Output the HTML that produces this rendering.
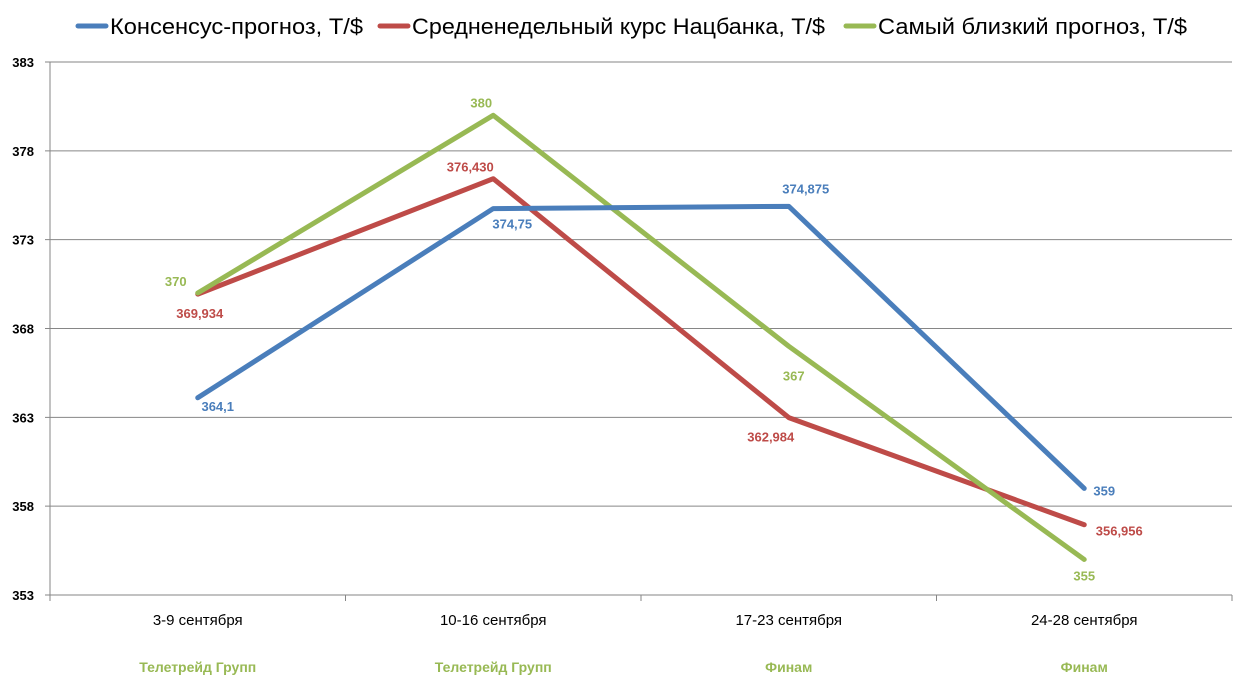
<!DOCTYPE html>
<html><head><meta charset="utf-8"><style>
body{margin:0;background:#fff;}
svg{display:block;font-family:"Liberation Sans",Arial,sans-serif;}
</style></head><body>
<svg id="chart" width="1246" height="693">
<g id="grid"></g>
<g id="axes"></g>
<g id="series"></g>
<g id="legend"></g>
</svg>
<script>
const categories=["3-9 сентября","10-16 сентября","17-23 сентября","24-28 сентября"];
const sources=["Телетрейд Групп","Телетрейд Групп","Финам","Финам"];
const consensus=[364.1,374.75,374.875,359];
const consensusLabels=["364,1","374,75","374,875","359"];
const nbk=[369.934,376.43,362.984,356.956];
const nbkLabels=["369,934","376,430","362,984","356,956"];
const closest=[370,380,367,355];
const closestLabels=["370","380","367","355"];
const yTicks=[353,358,363,368,373,378,383];
const seriesNames=["Консенсус-прогноз, Т/$","Средненедельный курс Нацбанка, Т/$","Самый близкий прогноз, Т/$"];

const NS="http://www.w3.org/2000/svg";
const L=50,R=1232,T=62,B=595,ymin=353,ymax=383;
const x=i=>L+(R-L)/categories.length*(i+0.5);
const y=v=>B-(v-ymin)/(ymax-ymin)*(B-T);
function mk(p,tag,a,txt){const e=document.createElementNS(NS,tag);for(const k in a)e.setAttribute(k,a[k]);if(txt!=null)e.textContent=txt;p.appendChild(e);return e;}
const grid=document.getElementById('grid'),axes=document.getElementById('axes'),ser=document.getElementById('series'),leg=document.getElementById('legend');
yTicks.forEach(t=>{
  const gl=mk(grid,'line',{x1:L-5,x2:R,y1:y(t),y2:y(t),stroke:'#868686','stroke-width':1});
  
  
  const tl=mk(axes,'text',{x:34,y:y(t)+5,'text-anchor':'end','font-size':13,'font-weight':'bold',fill:'#000'},t);
  
  
});
const ax=mk(axes,'line',{x1:L,x2:L,y1:T,y2:B,stroke:'#868686'});


for(let i=0;i<=categories.length;i++){
  const xx=L+(R-L)/categories.length*i;
  const tk=mk(axes,'line',{x1:xx,x2:xx,y1:B,y2:B+6,stroke:'#868686'});
  
  
}
categories.forEach((c,i)=>{
  const t=mk(axes,'text',{x:x(i),y:625,'text-anchor':'middle','font-size':15,fill:'#000'},c);
  
  
  const s=mk(axes,'text',{x:x(i),y:672,'text-anchor':'middle','font-size':14,'font-weight':'bold',fill:'#98b954'},sources[i]);
  
  
});
function draw(vals,labels,color,name,offs){
  const pl=mk(ser,'polyline',{points:vals.map((v,i)=>x(i)+','+y(v)).join(' '),fill:'none',stroke:color,'stroke-width':5,'stroke-linejoin':'round','stroke-linecap':'round'});
  
  
  vals.forEach((v,i)=>{
    const t=mk(ser,'text',{x:x(i)+offs[i][0],y:y(v)+offs[i][1],'text-anchor':'middle','font-size':13,'font-weight':'bold',fill:color},labels[i]);
    
    
  });
}
draw(nbk,nbkLabels,'#be4b48','nbk',[[2,24],[-23,-7],[-18,24],[35,11]]);
draw(closest,closestLabels,'#98b954','closest',[[-22,-7],[-12,-8],[5,34],[0,21]]);
draw(consensus,consensusLabels,'#4a7ebb','consensus',[[20,13],[19,20],[17,-13],[20,7]]);
const lc=['#4a7ebb','#be4b48','#98b954'],lx=[78,380,846],tw=[253,413,309];
seriesNames.forEach((n,i)=>{
  const l=mk(leg,'line',{x1:lx[i],x2:lx[i]+28,y1:26,y2:26,stroke:lc[i],'stroke-width':5,'stroke-linecap':'round'});
  
  
  const t=mk(leg,'text',{x:lx[i]+32,y:34,'font-size':22,fill:'#000',textLength:tw[i],lengthAdjust:'spacingAndGlyphs'},n);
  
  
});
</script>
</body></html>
